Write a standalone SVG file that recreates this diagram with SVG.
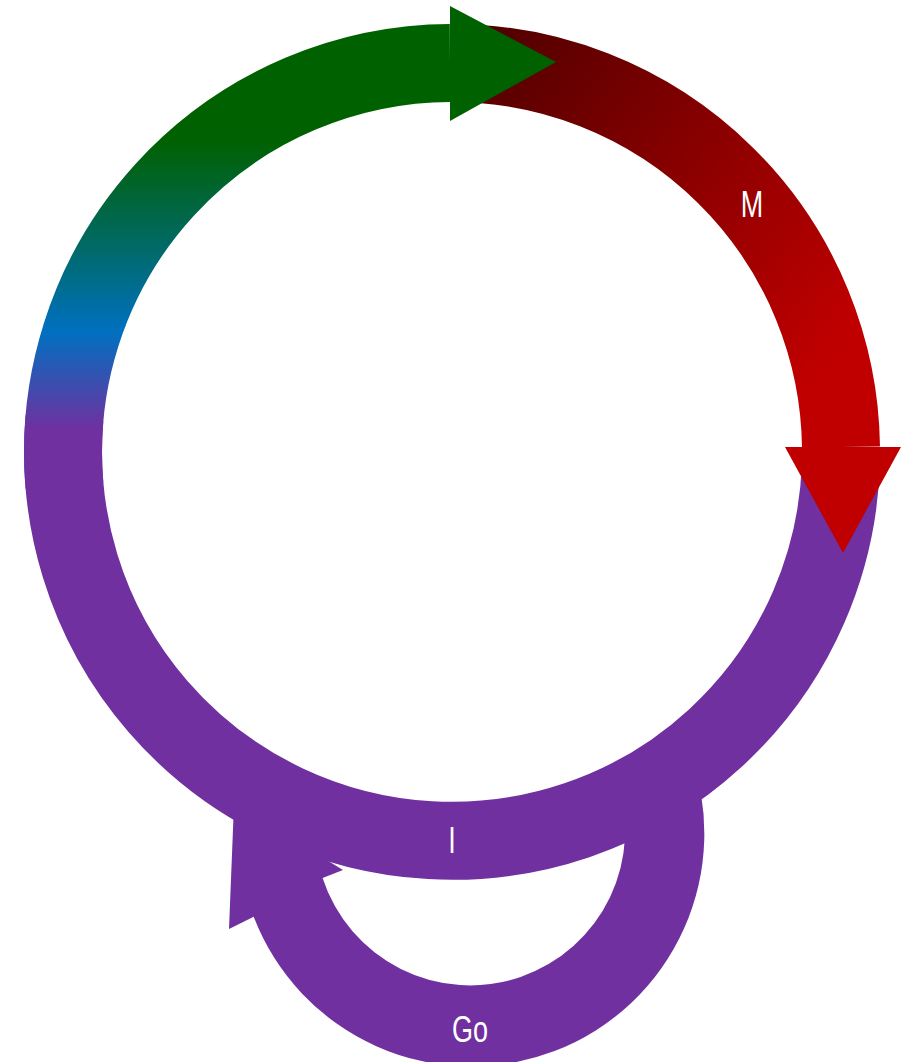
<svg xmlns="http://www.w3.org/2000/svg" width="912" height="1062" viewBox="0 0 912 1062">
  <defs>
    <linearGradient id="gGreen" gradientUnits="userSpaceOnUse" x1="0" y1="140" x2="0" y2="430">
      <stop offset="0" stop-color="#006100"/>
      <stop offset="0.38" stop-color="#006a6a"/>
      <stop offset="0.66" stop-color="#0070c0"/>
      <stop offset="1" stop-color="#7030a0"/>
    </linearGradient>
    <linearGradient id="gRed" gradientUnits="userSpaceOnUse" x1="480" y1="40" x2="850" y2="330">
      <stop offset="0" stop-color="#500000"/>
      <stop offset="1" stop-color="#c00000"/>
    </linearGradient>
    <style>
      .band { fill: none; stroke-width: 78; stroke-linecap: butt; }
      .lbl { fill: #ffffff; font-family: "Liberation Sans Narrow", "Liberation Sans", sans-serif; font-size: 36px; text-anchor: middle; }
    </style>
  </defs>
  <g id="connectors">
    <g id="loop-go">
      <path fill="#7030a0" d="M689.0,750.3 A233,233 0 0 1 253.7,916.7 L229,929 L234,804 L343,870 L322.6,877.9 A155,155 0 1 0 615.65,776.99 Z"/>
    </g>
    <g id="arc-i">
      <path class="band" stroke="#7030a0" d="M840.9,462.2 A389,389 0 1 1 64.5,418.1"/>
    </g>
    <g id="arc-m">
      <path class="band" stroke="url(#gRed)" d="M452,63 A389,389 0 0 1 841,447"/>
      <polygon fill="#c00000" points="785,447 901,447 843,553"/>
    </g>
    <g id="arc-start">
      <path class="band" stroke="url(#gGreen)" d="M64.5,485.9 A389,389 0 0 1 450,63"/>
      <polygon fill="#006100" points="450,6 556,62 450,121"/>
    </g>
  </g>
  <g id="label-m"><text class="lbl" transform="translate(752,217) scale(0.75,1)">M</text></g>
  <g id="label-i"><text class="lbl" transform="translate(452,853) scale(0.75,1)">I</text></g>
  <g id="label-go"><text class="lbl" transform="translate(470,1042) scale(0.75,1)">Go</text></g>
</svg>
